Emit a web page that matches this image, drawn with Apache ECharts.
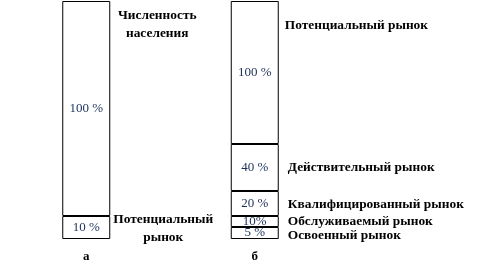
<!DOCTYPE html>
<html><head><meta charset="utf-8">
<script src="https://cdn.jsdelivr.net/npm/echarts@6/dist/echarts.min.js"></script>
<style>html,body{margin:0;padding:0;background:#fff}#c{width:478px;height:270px}</style>
</head><body><div id="c"></div>
<script>
// Columns (categories)
const categories = ['а', 'б'];
// Segment values of each column, bottom to top (diagram units)
const segA = [23, 215];
const segB = [12, 11, 25, 47, 143];
// Percentage labels, bottom to top
const pctA = ['10 %', '100 %'];
const pctB = ['5 %', '10%', '20 %', '40 %', '100 %'];
// Segment names, bottom to top
const namesA = ['Потенциальный\nрынок', 'Численность\nнаселения'];
const namesB = ['Освоенный рынок', 'Обслуживаемый рынок', 'Квалифицированный рынок', 'Действительный рынок', 'Потенциальный рынок'];

// label placement (relative to segment rectangle) — style only
const posA = [[101, 12.5, 'center'], [95, 24, 'center']];
const posB = [[57, 9, 'left'], [57, 6, 'left'], [57, 14, 'left'], [57, 24, 'left'], [54, 25, 'left']];

const FONT = 'Liberation Serif';
const levels = Math.max(segA.length, segB.length);
const series = [];
for (let i = 0; i < levels; i++) {
  series.push({
    type: 'bar', stack: 'main', xAxisIndex: 0, barWidth: 48,
    itemStyle: { color: '#fff', borderColor: '#000', borderWidth: 1 },
    label: {
      show: true, position: 'inside', fontFamily: FONT, fontSize: 13, color: '#1b2f5a',
      formatter: p => (p.dataIndex === 0 ? pctA[i] : pctB[i]) || ''
    },
    silent: true,
    data: [i < segA.length ? segA[i] : '-', i < segB.length ? segB[i] : '-']
  });
  const mk = (v, name, pos) => v === undefined ? '-' : {
    value: v,
    label: { show: true, position: [pos[0], pos[1]], align: pos[2], verticalAlign: 'middle', formatter: name }
  };
  series.push({
    type: 'bar', stack: 'names', xAxisIndex: 1, barWidth: 48,
    itemStyle: { color: 'rgba(0,0,0,0)' },
    label: { show: true, fontFamily: FONT, fontWeight: 'bold', fontSize: 13.4, color: '#000', lineHeight: 18 },
    silent: true,
    data: [mk(segA[i], namesA[i], posA[i] || [0,0,'left']), mk(segB[i], namesB[i], posB[i] || [0,0,'left'])]
  });
}

const chart = echarts.init(document.getElementById('c'), null, { renderer: 'canvas' });
chart.setOption({
  animation: false,
  grid: { left: 2, right: 139, top: 1, bottom: 31 },
  xAxis: [
    { type: 'category', data: categories, axisLine: { show: false }, axisTick: { show: false },
      axisLabel: { fontFamily: FONT, fontSize: 13, fontWeight: 'bold', color: '#000', margin: 11 } },
    { type: 'category', data: categories, show: false }
  ],
  yAxis: { type: 'value', min: 0, max: 238, show: false },
  series: series
});
</script></body></html>
